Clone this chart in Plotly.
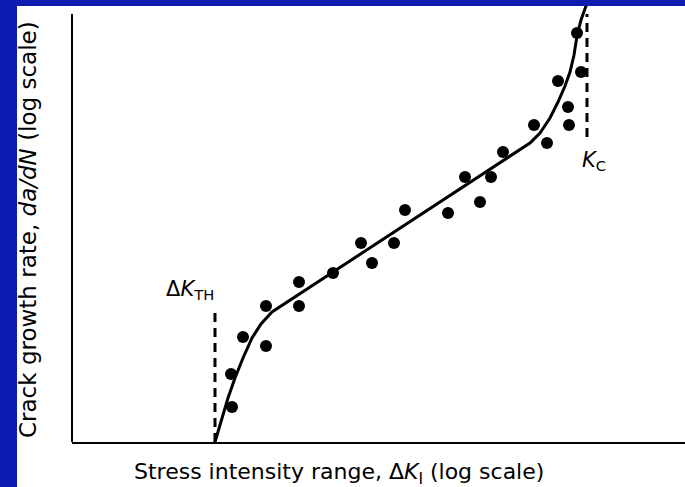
import plotly.graph_objects as go

# Chart units: log(ΔK) on x, log(da/dN) on y (arbitrary, no ticks in the original)
data_x = [1.60, 1.59, 1.71, 1.94, 1.94, 2.27, 2.27, 2.61, 2.89, 3.00, 3.22, 3.33,
          3.76, 3.93, 4.08, 4.19, 4.31, 4.62, 4.75, 4.86, 4.96, 4.97, 5.09, 5.05]
data_y = [0.35, 0.68, 1.05, 0.96, 1.36, 1.60, 1.36, 1.69, 1.99, 1.79, 1.99, 2.32,
          2.29, 2.65, 2.40, 2.65, 2.90, 3.17, 2.99, 3.61, 3.35, 3.17, 3.70, 4.09]

curve_x = [1.43, 1.50, 1.56, 1.63, 1.71, 1.80, 1.89, 2.00, 4.58, 4.68, 4.78, 4.86,
           4.93, 4.98, 5.02, 5.05, 5.09, 5.14, 5.18]
curve_y = [0.00, 0.24, 0.44, 0.64, 0.84, 1.04, 1.18, 1.30, 2.99, 3.09, 3.24, 3.40,
           3.56, 3.70, 3.87, 4.06, 4.22, 4.36, 4.48]

kth_x = [1.43, 1.43]
kth_y = [0.0, 1.34]
kc_x = [5.15, 5.15]
kc_y = [3.05, 4.28]

x_range = [0, 6.13]
y_range = [0, 4.36]

FONT = "DejaVu Sans, sans-serif"
BLUE = "#0d1bb0"

fig = go.Figure()
fig.add_trace(go.Scatter(x=kth_x, y=kth_y, mode="lines",
                         line=dict(color="black", width=3, dash="9px,6px"), hoverinfo="skip"))
fig.add_trace(go.Scatter(x=kc_x, y=kc_y, mode="lines",
                         line=dict(color="black", width=3, dash="9px,6px"), hoverinfo="skip"))
fig.add_trace(go.Scatter(x=curve_x, y=curve_y, mode="lines",
                         line=dict(color="black", width=3), hoverinfo="skip"))
fig.add_trace(go.Scatter(x=data_x, y=data_y, mode="markers",
                         marker=dict(color="black", size=12, line=dict(width=0))))

W, H = 685, 487
ml, mr, mt, mb = 72, 0, 6, 45
pw, ph = W - ml - mr, H - mt - mb

def px(xp):
    return (xp - ml) / pw

def py(yp):
    return (H - mb - yp) / ph

fig.update_layout(
    width=W, height=H,
    margin=dict(l=ml, r=mr, t=mt, b=mb),
    paper_bgcolor="white", plot_bgcolor="white",
    showlegend=False,
    xaxis=dict(range=x_range, showticklabels=False, ticks="", showgrid=False,
               zeroline=False, showline=True, linecolor="black", linewidth=2),
    yaxis=dict(range=y_range, showticklabels=False, ticks="", showgrid=False,
               zeroline=False, showline=False),
    shapes=[
        dict(type="line", xref="paper", yref="paper", x0=0, x1=0, y0=0, y1=py(14),
             line=dict(color="black", width=2)),
        dict(type="rect", xref="paper", yref="paper", x0=px(0), x1=px(17), y0=py(H), y1=py(0),
             fillcolor=BLUE, line=dict(width=0), layer="above"),
        dict(type="rect", xref="paper", yref="paper", x0=px(0), x1=px(W), y0=py(6), y1=py(0),
             fillcolor=BLUE, line=dict(width=0), layer="above"),
    ],
    annotations=[
        dict(text="Δ<i>K</i><sub>TH</sub>", x=1.18, y=1.52, xref="x", yref="y",
             showarrow=False, xanchor="center", yanchor="middle",
             font=dict(family=FONT, size=21, color="black")),
        dict(text="<i>K</i><sub>C</sub>", x=5.22, y=2.81, xref="x", yref="y",
             showarrow=False, xanchor="center", yanchor="middle",
             font=dict(family=FONT, size=21, color="black")),
        dict(text="Stress intensity range, Δ<i>K</i><sub>I</sub> (log scale)",
             x=px(339), y=py(473), xref="paper", yref="paper",
             showarrow=False, xanchor="center", yanchor="middle",
             font=dict(family=FONT, size=22, color="black")),
        dict(text="Crack growth rate, <i>da/dN</i> (log scale)",
             x=px(28), y=py(230), xref="paper", yref="paper", textangle=-90,
             showarrow=False, xanchor="center", yanchor="middle",
             font=dict(family=FONT, size=23, color="black")),
    ],
)

fig.write_html("out.html")
